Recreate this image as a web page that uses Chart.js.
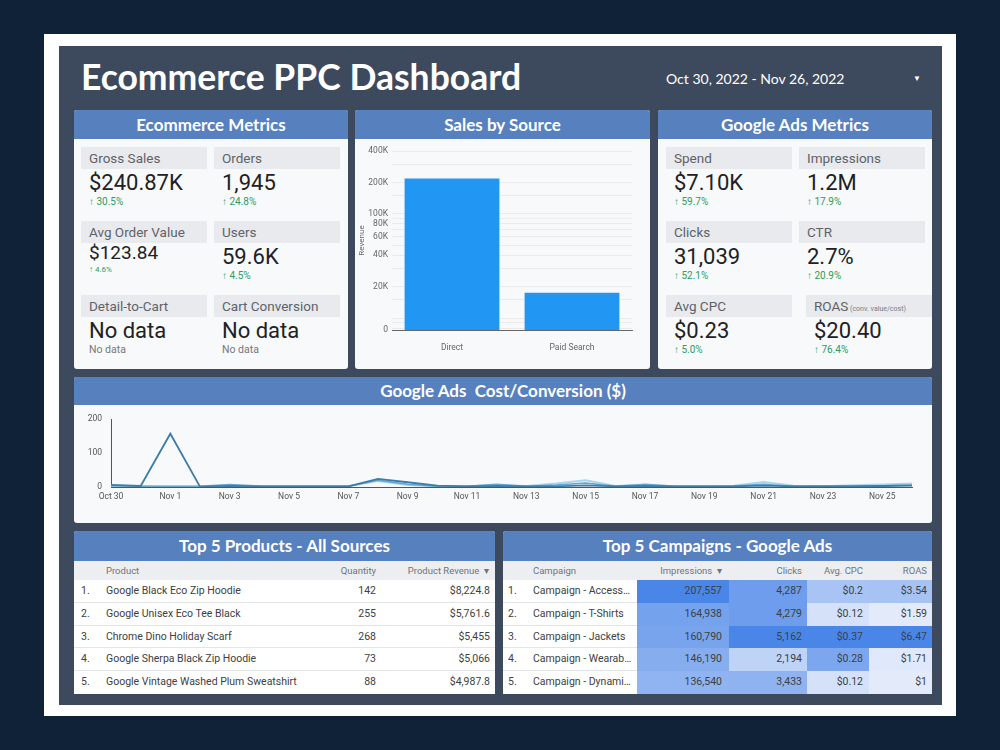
<!DOCTYPE html>
<html><head><meta charset="utf-8">
<script src="https://cdn.jsdelivr.net/npm/chart.js@4.4.1/dist/chart.umd.min.js"></script>
<style>
html,body{margin:0;padding:0;width:1000px;height:750px;overflow:hidden;background:#0f2237;font-family:Roboto,"Noto Sans",sans-serif;}
.a{position:absolute;white-space:pre;box-sizing:border-box;}
.card{position:absolute;background:#f8f9fa;border-radius:3px;overflow:hidden;}
.hdr{position:absolute;left:0;top:0;width:100%;background:#5780bf;color:#fff;font-family:Lato,sans-serif;font-weight:700;font-size:17px;text-align:center;white-space:pre;}
canvas{position:absolute;}
</style></head>
<body>
<div class="a" style="left:44px;top:34px;width:912px;height:682px;background:#fff;"></div>
<div class="a" style="left:59px;top:46px;width:883px;height:659px;background:#3d4a5e;"></div>
<div class="a" style="left:81px;top:55px;height:44px;line-height:44px;font-family:Lato,sans-serif;font-weight:700;font-size:35.5px;color:#fff;">Ecommerce PPC Dashboard</div>
<div class="a" style="left:666px;top:70px;height:18px;line-height:18px;font-family:Lato,sans-serif;font-size:14px;color:#fff;">Oct 30, 2022 - Nov 26, 2022</div>
<div class="a" style="left:913px;top:72px;height:14px;line-height:14px;font-size:8px;color:#fff;">▼</div>

<div class="card" style="left:74px;top:110px;width:274px;height:259px;"><div class="hdr" style="height:29px;line-height:29px;">Ecommerce Metrics</div></div>
<div class="card" style="left:355px;top:110px;width:295px;height:259px;"><div class="hdr" style="height:29px;line-height:29px;">Sales by Source</div></div>
<div class="card" style="left:658px;top:110px;width:274px;height:259px;"><div class="hdr" style="height:29px;line-height:29px;">Google Ads Metrics</div></div>
<div class="card" style="left:74px;top:377px;width:858px;height:146px;"><div class="hdr" style="height:28px;line-height:28px;">Google Ads  Cost/Conversion ($)</div></div>
<div class="card" style="left:74px;top:531px;width:421px;height:163px;"><div class="hdr" style="height:30px;line-height:30px;">Top 5 Products - All Sources</div></div>
<div class="card" style="left:503px;top:531px;width:429px;height:163px;"><div class="hdr" style="height:30px;line-height:30px;">Top 5 Campaigns - Google Ads</div></div>

<canvas id="bar" width="294" height="228" style="left:356px;top:140px;"></canvas>
<canvas id="line" width="856" height="117" style="left:75px;top:405px;"></canvas>
<div id="dyn"></div>
<script>
// ---------- data ----------
const ecomLabels = ['Gross Sales','Orders','Avg Order Value','Users','Detail-to-Cart','Cart Conversion'];
const ecomValues = ['$240.87K','1,945','$123.84','59.6K','No data','No data'];
const ecomDeltas = ['30.5%','24.8%','4.6%','4.5%',null,null];

const adsLabels = ['Spend','Impressions','Clicks','CTR','Avg CPC','ROAS'];
const adsLabelNotes = ['','','','','','(conv. value/cost)'];
const adsValues = ['$7.10K','1.2M','31,039','2.7%','$0.23','$20.40'];
const adsDeltas = ['59.7%','17.9%','52.1%','20.9%','5.0%','76.4%'];

const sources = ['Direct','Paid Search'];
const sourceRevenue = [218000, 17500];
const revenueTickValues = [20000,40000,60000,80000,100000,200000,400000];
const revenueTickLabels = ['20K','40K','60K','80K','100K','200K','400K'];

const dates = ['Oct 30','Oct 31','Nov 1','Nov 2','Nov 3','Nov 4','Nov 5','Nov 6','Nov 7','Nov 8','Nov 9','Nov 10','Nov 11','Nov 12','Nov 13','Nov 14','Nov 15','Nov 16','Nov 17','Nov 18','Nov 19','Nov 20','Nov 21','Nov 22','Nov 23','Nov 24','Nov 25','Nov 26'];
const costConvA = [6,3,157,1,3,2,2,2,2,24,14,4,2,3,2,2,5,2,3,2,2,2,4,2,2,2,3,4];
const costConvB = [4,2,2,2,7,3,2,2,2,20,8,2,2,8,2,6,12,2,8,2,2,3,8,2,3,3,4,6];
const costConvC = [3,2,1,1,3,2,2,2,2,18,6,2,2,5,3,10,20,3,6,2,2,4,15,4,2,5,7,10];
const costTicks = [0,100,200];

const products = ['Google Black Eco Zip Hoodie','Google Unisex Eco Tee Black','Chrome Dino Holiday Scarf','Google Sherpa Black Zip Hoodie','Google Vintage Washed Plum Sweatshirt'];
const productQty = [142,255,268,73,88];
const productRevenue = [8224.8,5761.6,5455,5066,4987.8];

const campaigns = ['Campaign - Accessories','Campaign - T-Shirts','Campaign - Jackets','Campaign - Wearables','Campaign - Dynamic Search'];
const campImpressions = [207557,164938,160790,146190,136540];
const campClicks = [4287,4279,5162,2194,3433];
const campCPC = [0.2,0.12,0.37,0.28,0.12];
const campROAS = [3.54,1.59,6.47,1.71,1];

// ---------- helpers ----------
const dyn = document.getElementById('dyn');
function el(css, text){ const d=document.createElement('div'); d.className='a'; d.style.cssText=css; if(text!==undefined) d.textContent=text; dyn.appendChild(d); return d; }

// ---------- KPI tiles ----------
function tiles(labels, notes, values, deltas, colX, rowTop, opts){
  labels.forEach((lab,i)=>{
    const col=i%2, row=Math.floor(i/2);
    let bx = colX[col], bt = rowTop[row];
    if(opts.shift && opts.shift[i]) bx += opts.shift[i];
    const lb = el(`left:${bx}px;top:${bt}px;width:126px;height:22px;line-height:22px;background:#e8eaed;padding-left:8px;font-size:13.5px;color:#5f6368;`, lab);
    if(notes && notes[i]){ const s=document.createElement('span'); s.textContent=' '+notes[i]; s.style.cssText='font-size:7px;color:#7a7e82;'; lb.appendChild(s); }
    const small = opts.small && opts.small[i];
    const vs = small ? 19 : 22;
    const vc = bt + (small ? 32 : 36);
    el(`left:${bx+8}px;top:${vc-13}px;height:26px;line-height:26px;font-size:${vs}px;color:#202124;`, values[i]);
    const dc = bt + (small ? 49 : 55);
    if(deltas[i]){
      el(`left:${bx+8}px;top:${dc-6}px;height:12px;line-height:12px;font-size:${small?8:10}px;color:#2a9d61;`, '↑ '+deltas[i]);
    } else {
      el(`left:${bx+8}px;top:${dc-6}px;height:12px;line-height:12px;font-size:10.5px;color:#777;`, 'No data');
    }
  });
}
tiles(ecomLabels, null, ecomValues, ecomDeltas, [81,214], [147,221,295], {small:{2:true}});
tiles(adsLabels, adsLabelNotes, adsValues, adsDeltas, [666,799], [147,221,295], {shift:{5:7}});

// ---------- tables ----------
const fmt1 = v => '$'+v.toLocaleString('en-US',{maximumFractionDigits:1});
const fmt2 = v => '$'+v.toLocaleString('en-US',{maximumFractionDigits:2});
const num = v => v.toLocaleString('en-US');
const hdrTop=561, hdrH=19, rowTop0=580, rowH=22.8;
// products
el(`left:74px;top:${hdrTop}px;width:421px;height:${hdrH}px;background:#eceef1;`);
el(`left:106px;top:${hdrTop}px;height:${hdrH}px;line-height:${hdrH}px;font-size:9.5px;color:#70757a;`,'Product');
el(`left:300px;width:76px;text-align:right;top:${hdrTop}px;height:${hdrH}px;line-height:${hdrH}px;font-size:9.5px;color:#70757a;`,'Quantity');
el(`left:380px;width:109px;text-align:right;top:${hdrTop}px;height:${hdrH}px;line-height:${hdrH}px;font-size:9.5px;color:#70757a;`,'Product Revenue  ▾');
products.forEach((p,i)=>{
  const t = rowTop0 + i*rowH;
  el(`left:74px;top:${t}px;width:421px;height:${rowH}px;background:#fff;border-bottom:${i<4?'1px solid #e2e4e7':'none'};`);
  el(`left:81px;top:${t}px;height:${rowH}px;line-height:${rowH}px;font-size:10.5px;color:#3c4043;`, (i+1)+'.');
  el(`left:106px;top:${t}px;height:${rowH}px;line-height:${rowH}px;font-size:10.5px;color:#3c4043;`, p);
  el(`left:300px;width:76px;text-align:right;top:${t}px;height:${rowH}px;line-height:${rowH}px;font-size:10.5px;color:#3c4043;`, num(productQty[i]));
  el(`left:380px;width:110px;text-align:right;top:${t}px;height:${rowH}px;line-height:${rowH}px;font-size:10.5px;color:#3c4043;`, fmt1(productRevenue[i]));
});
// campaigns
function heat(v, max){
  const f = Math.max(0, Math.min(1, (v/max - 0.25)/0.75));
  const lo=[227,235,251], hi=[74,134,232];
  return `rgb(${lo.map((c,k)=>Math.round(c+(hi[k]-c)*f)).join(',')})`;
}
el(`left:503px;top:${hdrTop}px;width:429px;height:${hdrH}px;background:#eceef1;`);
const cols = [
  {x:637,w:92,r:722,vals:campImpressions,f:num,h:'Impressions  ▾'},
  {x:729,w:78,r:802,vals:campClicks,f:num,h:'Clicks'},
  {x:807,w:62,r:863,vals:campCPC,f:fmt2,h:'Avg. CPC'},
  {x:869,w:63,r:927,vals:campROAS,f:fmt2,h:'ROAS'}
];
el(`left:533px;top:${hdrTop}px;height:${hdrH}px;line-height:${hdrH}px;font-size:9.5px;color:#70757a;`,'Campaign');
cols.forEach(c=>{
  el(`left:${c.r-90}px;width:90px;text-align:right;top:${hdrTop}px;height:${hdrH}px;line-height:${hdrH}px;font-size:9.5px;color:#70757a;`, c.h);
});
campaigns.forEach((n,i)=>{
  const t = rowTop0 + i*rowH;
  el(`left:503px;top:${t}px;width:429px;height:${rowH}px;background:#fff;border-bottom:${i<4?'1px solid #e2e4e7':'none'};`);
  el(`left:508px;top:${t}px;height:${rowH}px;line-height:${rowH}px;font-size:10.5px;color:#3c4043;`, (i+1)+'.');
  el(`left:533px;top:${t}px;width:100px;overflow:hidden;text-overflow:ellipsis;height:${rowH}px;line-height:${rowH}px;font-size:10.5px;color:#3c4043;`, n);
  cols.forEach(c=>{
    const max = Math.max(...c.vals);
    el(`left:${c.x}px;top:${t}px;width:${c.w}px;height:${Math.ceil(rowH)}px;background:${heat(c.vals[i],max)};`);
    el(`left:${c.r-90}px;width:90px;text-align:right;top:${t}px;height:${rowH}px;line-height:${rowH}px;font-size:10.5px;color:#3c4043;`, c.f(c.vals[i]));
  });
});

// ---------- charts ----------
Chart.defaults.font.family = 'Roboto';
Chart.defaults.animation = false;
new Chart(document.getElementById('bar'), {
  type:'bar',
  data:{labels:sources, datasets:[{data:sourceRevenue, backgroundColor:'#2196f3', barPercentage:0.79, categoryPercentage:1}]},
  options:{responsive:false, plugins:{legend:{display:false}, tooltip:{enabled:false}},
    layout:{padding:{top:11,right:18,bottom:0,left:0}},
    scales:{
      x:{grid:{display:false}, border:{color:'#666'}, ticks:{font:{size:8.5}, color:'#666', padding:5},
         afterFit(s){ s.height = 38; }},
      y:{type:'logarithmic', min:7700, max:400000,
         border:{display:false}, grid:{color:'#ebebeb', drawTicks:false},
         ticks:{autoSkip:false, padding:4, font:{size:8.5}, color:'#666',
           callback(v,i){ if(i===0) return '0'; const k=revenueTickValues.indexOf(v); return k>=0 ? revenueTickLabels[k] : ''; }},
         title:{display:true, text:'Revenue', font:{size:8}, color:'#666', padding:{top:1,bottom:0}},
         afterFit(s){ s.width = 36; }}
    }}
});
new Chart(document.getElementById('line'), {
  type:'line',
  data:{labels:dates, datasets:[
    {data:costConvA, borderColor:'#3d7dab', borderWidth:1.8, pointRadius:0, tension:0},
    {data:costConvB, borderColor:'#62a5d3', borderWidth:1.5, pointRadius:0, tension:0},
    {data:costConvC, borderColor:'#a9d5ee', borderWidth:2, pointRadius:0, tension:0}
  ]},
  options:{responsive:false, plugins:{legend:{display:false}, tooltip:{enabled:false}},
    layout:{padding:{top:12,right:19,bottom:11,left:0}},
    scales:{
      x:{grid:{display:false, drawTicks:false}, border:{color:'#555'},
         ticks:{autoSkip:false, maxRotation:0, padding:5, font:{size:8.5}, color:'#555',
           callback(v,i){ return i%2===0 ? dates[i] : ''; }},
         afterFit(s){ s.height = 24; }},
      y:{min:0, max:200, grid:{display:false, drawTicks:false}, border:{color:'#555'},
         afterBuildTicks(s){ s.ticks = costTicks.map(v=>({value:v})); },
         ticks:{padding:9, font:{size:8.5}, color:'#555'},
         afterFit(s){ s.width = 36; }}
    }}
});
</script>
</body></html>
